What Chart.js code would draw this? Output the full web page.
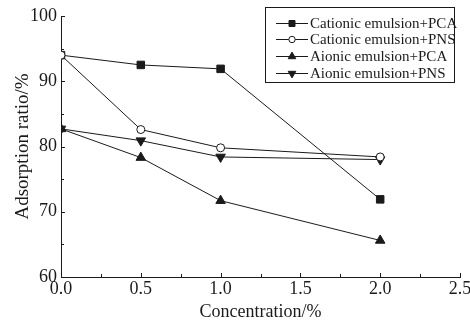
<!DOCTYPE html>
<html><head><meta charset="utf-8">
<script src="https://cdn.jsdelivr.net/npm/chart.js@4"></script>
<style>html,body{margin:0;padding:0;background:#fff}#w{width:470px;height:322px}</style>
</head><body><div id="w"><canvas id="c"></canvas></div>
<script>
const concentrations = [0.0, 0.5, 1.0, 2.0];
const seriesNames = ["Cationic emulsion+PCA", "Cationic emulsion+PNS", "Aionic emulsion+PCA", "Aionic emulsion+PNS"];
const cationicPCA = [94.0, 92.5, 91.9, 71.9];
const cationicPNS = [94.0, 82.6, 79.8, 78.4];
const aionicPCA = [82.7, 78.3, 71.7, 65.6];
const aionicPNS = [82.7, 80.9, 78.4, 78.0];
const xTicks = [0.0, 0.5, 1.0, 1.5, 2.0, 2.5];
const yTicks = [60, 70, 80, 90, 100];

const INK = '#1a1a1a';
const FONT = "'Liberation Serif', 'Times New Roman', serif";
const styles = [
  {pointStyle:'rect', rot:0, fill:INK, r:5.3, order:1},
  {pointStyle:'circle', rot:0, fill:'#fff', r:4, order:0},
  {pointStyle:'triangle', rot:0, fill:INK, r:5.5, order:2},
  {pointStyle:'triangle', rot:180, fill:INK, r:5.5, order:3}
];
const values = [cationicPCA, cationicPNS, aionicPCA, aionicPNS];
const datasets = values.map((v,i)=>({
  label: seriesNames[i],
  data: concentrations.map((x,j)=>({x, y:v[j]})),
  borderColor: INK, borderWidth: 1, order: styles[i].order,
  pointStyle: styles[i].pointStyle, rotation: styles[i].rot,
  pointRadius: styles[i].r, pointBackgroundColor: styles[i].fill,
  pointBorderColor: INK, pointBorderWidth: 1, tension: 0
}));

const decorPlugin = {
  id:'decor',
  afterDraw(chart){
    const ctx = chart.ctx, xs = chart.scales.x, ys = chart.scales.y, a = chart.chartArea;
    ctx.save(); ctx.strokeStyle = INK; ctx.lineWidth = 1;
    ctx.beginPath();
    for (let k=0; k<=10; k++){
      const v = k*0.25;
      const px = Math.round(xs.getPixelForValue(v))+0.5;
      const major = k%2===0;
      ctx.moveTo(px, a.bottom); ctx.lineTo(px, a.bottom-(major?4:3));
    }
    for (let k=0; k<=8; k++){
      const v = 60 + k*5;
      const py = Math.round(ys.getPixelForValue(v))+0.5;
      const major = k%2===0;
      ctx.moveTo(a.left, py); ctx.lineTo(a.left+(major?4:3), py);
    }
    ctx.stroke();
    // legend
    const lx=265, ly=7, lw=189, lh=75;
    ctx.strokeRect(lx+0.5, ly+0.5, lw, lh);
    ctx.font = "15px " + FONT; ctx.textBaseline='middle'; ctx.textAlign='left';
    chart.data.datasets.forEach((d,i)=>{
      const y = Math.round(ly + 15.5 + i*16.8) + 0.5;
      ctx.strokeStyle = INK; ctx.lineWidth = 1;
      ctx.beginPath(); ctx.moveTo(lx+11, y); ctx.lineTo(lx+43, y); ctx.stroke();
      ctx.fillStyle = d.pointBackgroundColor; ctx.strokeStyle = INK;
      Chart.helpers.drawPoint(ctx, {pointStyle:d.pointStyle, rotation:d.rotation, radius:d.pointRadius*0.8, borderWidth:1}, lx+27, y);
      ctx.fillStyle = INK;
      ctx.fillText(d.label, lx+45, y+0.5);
    });
    ctx.restore();
  }
};

new Chart(document.getElementById('c'), {
  type:'line',
  data:{datasets},
  options:{
    responsive:true, maintainAspectRatio:false, animation:false,
    layout:{padding:{top:16, right:10, left:0, bottom:0}},
    plugins:{legend:{display:false}, tooltip:{enabled:false}},
    scales:{
      x:{type:'linear', min:0, max:2.5,
        afterBuildTicks(s){ s.ticks = xTicks.map(v=>({value:v})); },
        afterFit(s){ s.height = 45; s.paddingLeft = 0; s.paddingRight = 0; },
        grid:{display:false, drawTicks:false},
        border:{display:true, color:INK, width:1},
        ticks:{color:INK, font:{family:FONT, size:18}, padding:1, maxRotation:0, autoSkip:false,
          callback:v=>Number(v).toFixed(1)},
        title:{display:true, text:'Concentration/%', color:INK, font:{family:FONT, size:18, lineHeight:1.1}, padding:{top:0,bottom:0}}
      },
      y:{type:'linear', min:60, max:100,
        afterBuildTicks(s){ s.ticks = yTicks.map(v=>({value:v})); },
        afterFit(s){ s.width = 61; s.paddingTop = 0; s.paddingBottom = 0; },
        grid:{display:false, drawTicks:false},
        border:{display:true, color:INK, width:1},
        ticks:{color:INK, font:{family:FONT, size:18}, padding:4, autoSkip:false},
        title:{display:true, text:'Adsorption ratio/%', color:INK, font:{family:FONT, size:19}, padding:{top:12,bottom:0}}
      }
    }
  },
  plugins:[decorPlugin]
});
</script></body></html>
